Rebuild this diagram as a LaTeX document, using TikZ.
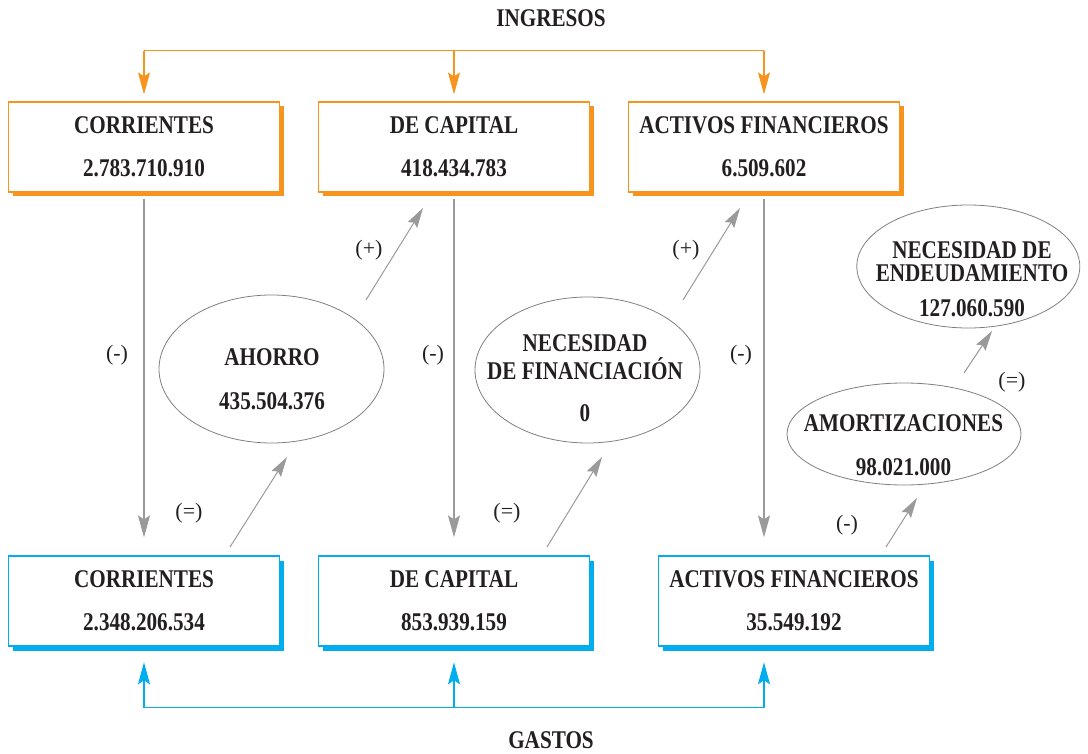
\documentclass[tikz,border=0pt]{standalone}
\usepackage{fontspec}
\setmainfont{Liberation Serif}
\newfontfamily\bxf{Liberation Serif}[FakeStretch=0.83]
\usetikzlibrary{arrows.meta,shadows,shapes.geometric,calc}
\definecolor{org}{HTML}{F7941D}
\definecolor{cyb}{HTML}{00AEEF}
\definecolor{arrc}{HTML}{9A9A9A}
\definecolor{ellc}{HTML}{7F7F7F}
\definecolor{txt}{HTML}{231F20}
\begin{document}
\begin{tikzpicture}[x=1pt,y=-1pt,
  box/.style={draw=#1, line width=1.2pt, fill=white, minimum width=271pt,
    minimum height=90pt, inner sep=0pt, align=center, text=txt,
    font=\bxf\bfseries\fontsize{25.5}{43}\selectfont,
    general shadow={fill=#1, shadow xshift=4.5pt, shadow yshift=-4.5pt}},
  ell/.style={ellipse, draw=ellc, line width=0.8pt, inner sep=0pt},
  etxt/.style={align=center, text=txt, inner sep=0pt,
    font=\bxf\bfseries\fontsize{25.5}{44}\selectfont},
  ttl/.style={text=txt, inner sep=0pt, font=\bxf\bfseries\fontsize{25.5}{30}\selectfont},
  lab/.style={text=txt, inner sep=0pt, font=\fontsize{22}{26}\selectfont},
  oline/.style={draw=org, line width=1.3pt},
  oarr/.style={draw=org, line width=1.3pt, shorten >=7pt, -{Stealth[length=22pt, width=12pt, inset=4pt]}},
  bline/.style={draw=cyb, line width=1.3pt},
  barr/.style={draw=cyb, line width=1.3pt, shorten >=15.7pt, -{Stealth[length=22pt, width=12pt, inset=4pt]}},
  gv/.style={draw=arrc, line width=1.6pt, shorten <=6pt, shorten >=18pt, -{Stealth[length=22pt, width=12pt, inset=4pt]}},
  gd/.style={draw=arrc, line width=1pt, -{Stealth[length=20pt, width=11pt, inset=3pt]}}
]
\useasboundingbox (0,0) rectangle (1088,754);

% titles
\node[ttl] (ing) at (551,18) {INGRESOS};
\node[ttl] (gas) at (551,740) {GASTOS};

% top boxes
\node[box=org] (B1) at (144,147) {CORRIENTES\\2.783.710.910};
\node[box=org] (B2) at (454,147) {DE CAPITAL\\418.434.783};
\node[box=org] (B3) at (764,147) {ACTIVOS FINANCIEROS\\6.509.602};

% bottom boxes
\node[box=cyb] (C1) at (144,601) {CORRIENTES\\2.348.206.534};
\node[box=cyb] (C2) at (454,601) {DE CAPITAL\\853.939.159};
\node[box=cyb] (C3) at (794,601) {ACTIVOS FINANCIEROS\\35.549.192};

% ellipses
\node[ell, minimum width=225pt, minimum height=148pt] (ahE) at (271.5,369) {};
\node[etxt] (ah) at (272,379) {AHORRO\\435.504.376};

\node[ell, minimum width=225pt, minimum height=146pt] (nfE) at (587.5,370) {};
\node[etxt, font=\bxf\bfseries\fontsize{25.5}{28}\selectfont] (nf) at (585,378) {NECESIDAD\\DE FINANCIACIÓN\\[14pt]0};

\node[ell, minimum width=234pt, minimum height=102pt] (amE) at (904,434) {};
\node[etxt] (am) at (903.5,445) {AMORTIZACIONES\\98.021.000};

\node[ell, minimum width=223pt, minimum height=123pt] (neE) at (968.3,266.5) {};
\node[etxt, font=\bxf\bfseries\fontsize{25.5}{23}\selectfont] (ne) at (972,279) {NECESIDAD DE\\ENDEUDAMIENTO\\[12pt]127.060.590};

% orange distribution
\coordinate (otop) at (454,50.7);
\draw[oline] (B1.north |- otop) -- (B3.north |- otop);
\draw[oarr] (B1.north |- otop) -- (B1.north);
\draw[oarr] (B2.north |- otop) -- (B2.north);
\draw[oarr] (B3.north |- otop) -- (B3.north);

% blue distribution
\coordinate (gbot) at (454,707.7);
\draw[bline] (C1.south |- gbot) -- (B3.south |- gbot);
\draw[barr] (C1.south |- gbot) -- (C1.south);
\draw[barr] (C2.south |- gbot) -- (C2.south);
\draw[barr] (B3.south |- gbot) -- (B3.south |- C3.south);

% gray vertical arrows
\draw[gv] (B1.south) -- (B1.south |- C1.north);
\draw[gv] (B2.south) -- (B2.south |- C2.north);
\draw[gv] (B3.south) -- (B3.south |- C3.north);

% diagonal arrows
\coordinate (d1s) at (230,547); \coordinate (d1e) at (287,457);
\coordinate (d2s) at (366,300); \coordinate (d2e) at (423,208);
\coordinate (d3s) at (547,547); \coordinate (d3e) at (602,457);
\coordinate (d4s) at (683,300); \coordinate (d4e) at (740,208);
\coordinate (d5s) at (886,547); \coordinate (d5e) at (917,498);
\coordinate (d6s) at (964,373); \coordinate (d6e) at (992,331);
\draw[gd] (d1s) -- (d1e);
\draw[gd] (d2s) -- (d2e);
\draw[gd] (d3s) -- (d3e);
\draw[gd] (d4s) -- (d4e);
\draw[gd] (d5s) -- (d5e);
\draw[gd] (d6s) -- (d6e);

% labels
\node[lab] (m1) at (117,355) {(-)};
\node[lab] (m2) at (433,355) {(-)};
\node[lab] (m3) at (741,355) {(-)};
\node[lab] (p1) at (369,250) {(+)};
\node[lab] (p2) at (686,250) {(+)};
\node[lab] (e1) at (189,513) {(=)};
\node[lab] (e2) at (507,513) {(=)};
\node[lab] (e3) at (1012,382) {(=)};
\node[lab] (m4) at (847,525) {(-)};
\end{tikzpicture}
\end{document}
